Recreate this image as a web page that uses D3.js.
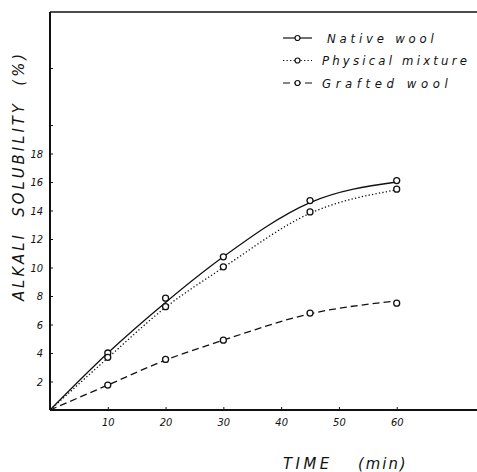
<!DOCTYPE html>
<html>
<head>
<meta charset="utf-8">
<script src="https://cdn.jsdelivr.net/npm/d3@7"></script>
<style>
  body { margin: 0; background: #fff; }
  text { font-family: "DejaVu Sans Condensed", "DejaVu Sans", sans-serif; font-style: italic; fill: #111; }
</style>
</head>
<body>
<div id="chart"></div>
<script>
// 數據
const times = [10, 20, 30, 45, 60];
const seriesNames = ["Native wool", "Physical mixture", "Grafted wool"];
// 量測點
const nativePoints = [4.0, 7.85, 10.75, 14.7, 16.1];
const physicalPoints = [3.7, 7.25, 10.05, 13.9, 15.5];
const graftedPoints = [1.75, 3.55, 4.9, 6.8, 7.5];
// 平滑曲線（從原點出發）
const curveTimes = [0, 10, 20, 30, 45, 60];
const nativeCurve = [0, 4.0, 7.55, 10.75, 14.55, 16.0];
const physicalCurve = [0, 3.65, 7.2, 10.0, 13.8, 15.45];
const graftedCurve = [0, 1.75, 3.5, 4.9, 6.75, 7.65];

const xTicks = [10, 20, 30, 40, 50, 60];
const yTicks = [2, 4, 6, 8, 10, 12, 14, 16, 18, 20, 24];
const yLabels = [2, 4, 6, 8, 10, 12, 14, 16, 18];

const W = 477, H = 472;
const svg = d3.select("#chart").append("svg")
    .attr("width", W).attr("height", H);

const x = d3.scaleLinear().domain([0, 74]).range([50, 477.6]);
const y = d3.scaleLinear().domain([0, 27.93]).range([410, 12]);

// 軸線與上框線
svg.append("line").attr("x1", 50).attr("x2", W).attr("y1", y(0)).attr("y2", y(0))
    .attr("stroke", "#111").attr("stroke-width", 2);
svg.append("line").attr("x1", 50).attr("x2", 50).attr("y1", y(0)).attr("y2", y(27.93))
    .attr("stroke", "#111").attr("stroke-width", 2);
svg.append("line").attr("x1", 50).attr("x2", W).attr("y1", y(27.93)).attr("y2", y(27.93))
    .attr("stroke", "#111").attr("stroke-width", 1.6);

// X 軸刻度
const xAxis = svg.append("g")
    .attr("transform", `translate(0,${y(0)})`)
    .call(d3.axisBottom(x).tickValues(xTicks).tickSize(-3).tickPadding(8));
xAxis.select(".domain").remove();
xAxis.selectAll("text").attr("font-size", 11).attr("font-family", null);
xAxis.selectAll("line").attr("stroke", "#111");

// Y 軸刻度
const yAxis = svg.append("g")
    .attr("transform", "translate(50,0)")
    .call(d3.axisLeft(y).tickValues(yTicks).tickSize(-3).tickPadding(7)
        .tickFormat(d => yLabels.includes(d) ? d : ""));
yAxis.select(".domain").remove();
yAxis.selectAll("text").attr("font-size", 11).attr("font-family", null);
yAxis.selectAll("line").attr("stroke", "#111");

// 軸標題
svg.append("text")
    .attr("transform", `translate(24,${176}) rotate(-90)`)
    .attr("text-anchor", "middle")
    .attr("font-size", 16.5)
    .attr("letter-spacing", 3)
    .attr("xml:space", "preserve")
    .text("ALKALI  SOLUBILITY  (%)");

svg.append("text")
    .attr("x", 283).attr("y", 469)
    .attr("font-size", 16.5)
    .attr("letter-spacing", 3.5)
    .text("TIME");
svg.append("text")
    .attr("x", 358).attr("y", 469)
    .attr("font-size", 16.5)
    .attr("letter-spacing", 2)
    .text("(min)");

// 線條
const styles = [
    { dash: null, curve: nativeCurve, pts: nativePoints },
    { dash: "1.3,2.2", curve: physicalCurve, pts: physicalPoints },
    { dash: "7,4", curve: graftedCurve, pts: graftedPoints }
];

const line = d3.line()
    .x((d, i) => x(curveTimes[i]))
    .y(d => y(d))
    .curve(d3.curveMonotoneX);

styles.forEach(s => {
    svg.append("path")
        .attr("d", line(s.curve))
        .attr("fill", "none")
        .attr("stroke", "#111")
        .attr("stroke-width", 1.3)
        .attr("stroke-dasharray", s.dash);
    svg.selectAll(null)
        .data(s.pts)
        .enter().append("circle")
        .attr("cx", (d, i) => x(times[i]))
        .attr("cy", d => y(d))
        .attr("r", 3)
        .attr("fill", "#fff")
        .attr("stroke", "#111")
        .attr("stroke-width", 1.3);
});

// 圖例
const legend = svg.selectAll(".legend")
    .data(seriesNames)
    .enter().append("g")
    .attr("class", "legend")
    .attr("transform", (d, i) => `translate(0,${38 + i * 22.5})`);

legend.append("line")
    .attr("x1", 283).attr("x2", 312)
    .attr("stroke", "#111").attr("stroke-width", 1.2)
    .attr("stroke-dasharray", (d, i) => styles[i].dash);
legend.append("circle")
    .attr("cx", 297.5).attr("r", 2.5)
    .attr("fill", "#fff").attr("stroke", "#111").attr("stroke-width", 1.2);
legend.append("text")
    .attr("x", (d, i) => i === 0 ? 327 : 322)
    .attr("dy", "0.35em")
    .attr("font-size", 13)
    .attr("letter-spacing", (d, i) => [3.8, 3.2, 4.6][i])
    .text(d => d);
</script>
</body>
</html>
